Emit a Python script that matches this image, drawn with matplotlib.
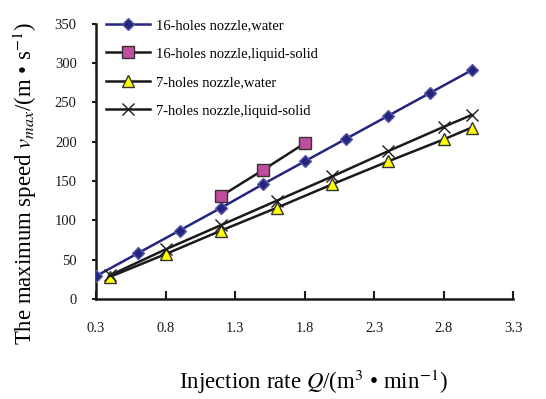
import matplotlib.pyplot as plt
import numpy as np

plt.rcParams["font.family"] = ["Liberation Serif", "DejaVu Serif"]
plt.rcParams["mathtext.fontset"] = "stix"

# ---- data ----
q16_water = [0.3, 0.6, 0.9, 1.2, 1.5, 1.8, 2.1, 2.4, 2.7, 3.0]
v16_water = [29, 58, 87, 116, 146, 175, 204, 233, 262, 291]

q16_ls = [1.2, 1.5, 1.8]
v16_ls = [131, 164, 198]

q7_water = [0.4, 0.8, 1.2, 1.6, 2.0, 2.4, 2.8, 3.0]
v7_water = [28, 57, 87, 116, 146, 175, 203, 218]

q7_ls = [0.4, 0.8, 1.2, 1.6, 2.0, 2.4, 2.8, 3.0]
v7_ls = [30, 63, 94, 125, 156, 188, 219, 234]

labels = [
    "16-holes nozzle,water",
    "16-holes nozzle,liquid-solid",
    "7-holes nozzle,water",
    "7-holes nozzle,liquid-solid",
]
xticks = [0.3, 0.8, 1.3, 1.8, 2.3, 2.8, 3.3]
yticks = [0, 50, 100, 150, 200, 250, 300, 350]

fig = plt.figure(figsize=(5.46, 3.99), dpi=100)
ax = fig.add_axes([0.176, 0.251, 0.764, 0.689])

ax.plot(q16_water, v16_water, color="#252580", lw=1.8, marker="D",
        ms=6, mfc="#252580", mec="#5a5aa8", label=labels[0], zorder=3)
ax.plot(q16_ls, v16_ls, color="#1a1a1a", lw=1.8, marker="s",
        ms=8, mfc="#c04ea0", mec="#333333", label=labels[1], zorder=3)
ax.plot(q7_water, v7_water, color="#1a1a1a", lw=1.8, marker="^",
        ms=8, mfc="#ffff00", mec="#333333", label=labels[2], zorder=3)
ax.plot(q7_ls, v7_ls, color="#1a1a1a", lw=1.8, marker="x",
        ms=9, mew=1.0, label=labels[3], zorder=3)

ax.set_xlim(0.3, 3.3)
ax.set_ylim(0, 350)
ax.set_xticks(xticks)
ax.set_xticklabels([f"{t:.1f}" for t in xticks])
ax.set_yticks(yticks)

for side in ["top", "right"]:
    ax.spines[side].set_visible(False)
for side in ["left", "bottom"]:
    ax.spines[side].set_linewidth(1.8)
    ax.spines[side].set_color("#1a1a1a")

ax.tick_params(axis="x", direction="in", length=6, width=1.5, pad=17,
               labelsize=10.5, colors="#1a1a1a")
ax.tick_params(axis="y", direction="out", length=3, width=1.5, pad=11,
               labelsize=10.5, colors="#1a1a1a")

ax.set_ylabel(r"The maximum speed $v_{max}$/(m • s$^{-1}$)", fontsize=16.4)
ax.yaxis.set_label_coords(-0.136, 0.418)
ax.set_xlabel(r"Injection rate $Q$/(m$^3$ • min$^{-1}$)", fontsize=16.5)
ax.xaxis.set_label_coords(0.52, -0.25)

ax.legend(loc="upper left", bbox_to_anchor=(0.01, 1.04), frameon=False,
          fontsize=10.5, handlelength=3.0, labelspacing=1.05,
          handletextpad=0.4, borderaxespad=0)

fig.savefig("out.png", dpi=100)
